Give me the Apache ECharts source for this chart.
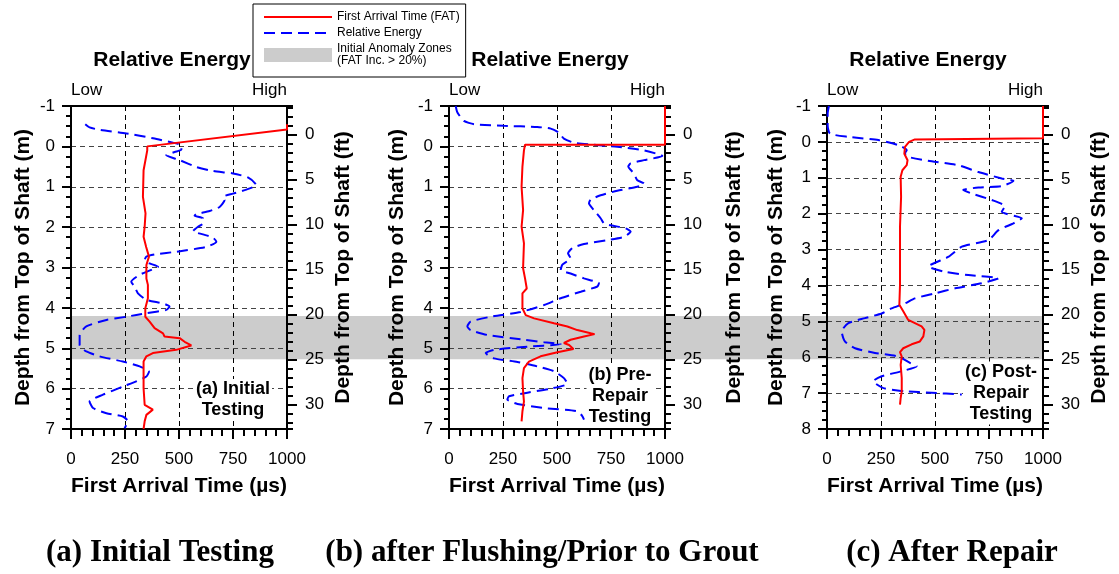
<!DOCTYPE html>
<html>
<head>
<meta charset="utf-8">
<script src="https://cdn.jsdelivr.net/npm/echarts@6/dist/echarts.min.js"></script>
<style>
  html, body { margin: 0; padding: 0; background: #fff; }
  #chart { width: 1119px; height: 574px; }
</style>
</head>
<body>
<div id="chart"></div>
<script>
// values: [first arrival time (us), depth (m)]
const fatA = [[1000,-0.55],[1000,-0.42],[353,0],[353,0.1],[336,0.59],[333,1.25],[345,1.66],[341,1.99],[336,2.24],[348,2.49],[361,2.73],[349,2.94],[349,3.27],[356,3.43],[356,3.76],[344,4.01],[344,4.22],[364,4.34],[387,4.5],[426,4.63],[433,4.71],[503,4.75],[526,4.84],[557,4.93],[487,5.04],[379,5.12],[349,5.2],[336,5.33],[336,5.66],[336,5.99],[341,6.4],[379,6.52],[349,6.65],[341,6.81],[336,7.0]]
const fatB = [[1000,-1],[1000,-0.04],[352,-0.04],[347,0.1],[340,0.5],[336,1.0],[343,1.58],[336,1.99],[347,2.4],[343,3.02],[352,3.27],[360,3.52],[340,3.64],[340,4.01],[355,4.18],[394,4.26],[486,4.38],[548,4.46],[594,4.55],[656,4.63],[674,4.65],[625,4.71],[563,4.79],[532,4.87],[556,4.92],[548,4.96],[576,5.02],[502,5.1],[424,5.2],[370,5.33],[347,5.49],[340,5.74],[343,6.07],[347,6.32],[340,6.56],[336,6.81]]
const fatC = [[1000,-1],[1000,-0.1],[407,-0.07],[380,0],[361,0.14],[358,0.33],[373,0.51],[369,0.65],[349,0.79],[341,0.97],[343,1.53],[338,2.36],[338,3.52],[338,3.99],[335,4.54],[353,4.72],[376,4.96],[407,5.05],[438,5.14],[451,5.24],[446,5.42],[430,5.56],[392,5.64],[353,5.75],[338,5.86],[346,5.98],[341,6.21],[346,6.58],[346,6.95],[341,7.14],[338,7.32]]

// relative energy (0 = low, 1 = high), [energy, depth (m)]
const energyA = [[0.066,-0.55],[0.086,-0.47],[0.132,-0.41],[0.256,-0.32],[0.38,-0.2],[0.472,-0.09],[0.511,-0.03],[0.511,0.08],[0.48,0.14],[0.441,0.22],[0.503,0.34],[0.58,0.51],[0.657,0.61],[0.75,0.67],[0.819,0.77],[0.858,0.96],[0.812,1.07],[0.75,1.17],[0.704,1.25],[0.711,1.33],[0.688,1.5],[0.642,1.6],[0.58,1.68],[0.572,1.72],[0.611,1.78],[0.611,1.91],[0.588,1.99],[0.565,2.1],[0.611,2.18],[0.657,2.26],[0.673,2.36],[0.626,2.49],[0.487,2.61],[0.395,2.67],[0.349,2.73],[0.341,2.82],[0.364,2.9],[0.403,2.98],[0.372,3.06],[0.318,3.18],[0.279,3.35],[0.294,3.47],[0.31,3.64],[0.349,3.8],[0.426,3.89],[0.456,3.97],[0.441,4.05],[0.349,4.13],[0.256,4.22],[0.164,4.3],[0.071,4.46],[0.04,4.67],[0.04,4.92],[0.071,5.08],[0.132,5.2],[0.24,5.33],[0.318,5.45],[0.361,5.58],[0.349,5.7],[0.302,5.82],[0.24,5.95],[0.148,6.15],[0.086,6.32],[0.102,6.48],[0.164,6.61],[0.24,6.69],[0.264,6.81],[0.248,6.98]]
const energyB = [[0.031,-1],[0.039,-0.84],[0.069,-0.63],[0.116,-0.55],[0.255,-0.51],[0.409,-0.48],[0.471,-0.44],[0.509,-0.34],[0.532,-0.19],[0.579,-0.09],[0.671,-0.04],[0.779,0.01],[0.903,0.1],[0.988,0.24],[0.903,0.34],[0.841,0.42],[0.83,0.5],[0.856,0.67],[0.872,0.84],[0.903,0.92],[0.872,1.0],[0.779,1.1],[0.702,1.21],[0.656,1.32],[0.648,1.41],[0.671,1.58],[0.702,1.78],[0.718,1.91],[0.764,1.97],[0.818,2.03],[0.841,2.11],[0.81,2.24],[0.733,2.32],[0.625,2.42],[0.571,2.52],[0.551,2.65],[0.563,2.77],[0.525,2.93],[0.517,3.06],[0.563,3.15],[0.625,3.27],[0.694,3.39],[0.687,3.47],[0.61,3.6],[0.517,3.76],[0.44,3.93],[0.332,4.1],[0.193,4.22],[0.1,4.34],[0.085,4.46],[0.1,4.55],[0.177,4.67],[0.347,4.79],[0.44,4.85],[0.517,4.9],[0.363,4.96],[0.208,5.04],[0.17,5.12],[0.208,5.25],[0.317,5.34],[0.409,5.45],[0.486,5.57],[0.532,5.74],[0.548,5.88],[0.471,6.0],[0.363,6.1],[0.278,6.19],[0.27,6.27],[0.317,6.38],[0.44,6.48],[0.594,6.56],[0.617,6.68],[0.625,6.77]]
const energyC = [[0.009,-1],[0.003,-0.79],[0.003,-0.46],[0.014,-0.23],[0.099,-0.14],[0.238,-0.05],[0.33,0.09],[0.369,0.23],[0.361,0.32],[0.376,0.42],[0.485,0.54],[0.608,0.65],[0.701,0.84],[0.809,1.02],[0.863,1.09],[0.809,1.23],[0.701,1.27],[0.631,1.34],[0.67,1.44],[0.763,1.62],[0.824,1.79],[0.809,1.95],[0.902,2.13],[0.863,2.27],[0.794,2.46],[0.747,2.74],[0.624,2.92],[0.563,3.2],[0.47,3.47],[0.546,3.62],[0.654,3.71],[0.793,3.8],[0.716,3.94],[0.593,4.08],[0.5,4.22],[0.407,4.36],[0.361,4.5],[0.299,4.64],[0.253,4.78],[0.176,4.91],[0.099,5.05],[0.068,5.28],[0.083,5.56],[0.13,5.75],[0.222,5.88],[0.33,5.98],[0.384,6.16],[0.415,6.25],[0.346,6.39],[0.253,6.53],[0.214,6.67],[0.261,6.86],[0.361,6.95],[0.485,6.99],[0.624,7.04]]

// anomaly zone, depth range (m) on the scale of panel (a)
const anomalyZone = [4.2, 5.27]
const energyLabels = ['Low', 'High']
const captions = ['(a) Initial Testing', '(b) after Flushing/Prior to Grout', '(c) After Repair']
const notes = ['(a) Initial\nTesting', '(b) Pre-\nRepair\nTesting', '(c) Post-\nRepair\nTesting']

const FONT = 'Liberation Sans'
const FAT_NAME = 'First Arrival Time (FAT)'
const RE_NAME = 'Relative Energy'
const ZONE_NAME = 'Initial Anomaly Zones\n(FAT Inc. > 20%)'

// layout of the three panels
const panels = [
  { left: 71, depthMax: 7, fat: fatA, energy: energyA, leftGap: 37, rightGap: 46, noteX: 233, noteY: 400, capX: 160 },
  { left: 449, depthMax: 7, fat: fatB, energy: energyB, leftGap: 41, rightGap: 59, noteX: 620, noteY: 396, capX: 542 },
  { left: 827, depthMax: 8, fat: fatC, energy: energyC, leftGap: 40, rightGap: 46, noteX: 1001, noteY: 393, capX: 952 }
]
const TOP = 106
const W = 216
const H = 323

const black = { color: '#000', width: 2 }
const axisLine = { show: true, onZero: false, lineStyle: black }
const nameStyle = { fontSize: 21, fontWeight: 'bold', color: '#000', fontFamily: FONT }
const labelStyle = { fontSize: 17, color: '#000', fontFamily: FONT, formatter: v => String(v) }

const grid = []
const xAxis = []
const yAxis = []
const series = []
const graphic = []

panels.forEach((p, i) => {
  grid.push({ left: p.left, top: TOP, width: W, height: H })

  // bottom: first arrival time
  xAxis.push({
    type: 'value', gridIndex: i, position: 'bottom', min: 0, max: 1000, interval: 250, z: 2,
    name: 'First Arrival Time (\u00b5s)', nameLocation: 'middle', nameGap: 47, nameTextStyle: nameStyle,
    axisLine,
    axisTick: { show: true, length: 10, lineStyle: black },
    minorTick: { show: true, splitNumber: 5, length: 7, lineStyle: black },
    axisLabel: Object.assign({ margin: 22 }, labelStyle),
    splitLine: { show: true, lineStyle: { color: '#000', width: 1, type: [5, 4] } }
  })
  // top: relative energy
  xAxis.push({
    type: 'value', gridIndex: i, position: 'top', min: 0, max: 1, interval: 1, z: 2,
    name: 'Relative Energy', nameLocation: 'middle', nameGap: 35,
    nameTextStyle: Object.assign({ padding: [0, 14, 0, 0] }, nameStyle),
    axisLine,
    axisTick: { show: false },
    axisLabel: {
      margin: 7, fontSize: 17, color: '#000', fontFamily: FONT,
      alignMinLabel: 'left', alignMaxLabel: 'right',
      formatter: v => energyLabels[v]
    },
    splitLine: { show: false }
  })

  // left: depth (m)
  yAxis.push({
    type: 'value', gridIndex: i, position: 'left', inverse: true, min: -1, max: p.depthMax, interval: 1, z: 2,
    name: 'Depth from Top of Shaft (m)', nameLocation: 'middle', nameGap: p.leftGap, nameRotate: 90, nameTextStyle: nameStyle,
    axisLine,
    axisTick: { show: true, length: 9, lineStyle: black },
    minorTick: { show: true, splitNumber: 4, length: 5, lineStyle: black },
    axisLabel: Object.assign({ margin: 16 }, labelStyle),
    splitLine: { show: true, lineStyle: { color: '#444', width: 1, type: [5, 4] } }
  })
  // right: depth (ft), major ticks + labels
  yAxis.push({
    type: 'value', gridIndex: i, position: 'right', inverse: true, min: -3.17, max: 32.7, splitNumber: 7, z: 2,
    name: 'Depth from Top of Shaft (ft)', nameLocation: 'middle', nameGap: p.rightGap, nameRotate: 90, nameTextStyle: nameStyle,
    axisLine,
    axisTick: { show: true, length: 10, lineStyle: black },
    axisLabel: Object.assign({ margin: 18, showMinLabel: false, showMaxLabel: false }, labelStyle),
    splitLine: { show: false }
  })
  // right: 1 ft minor ticks
  yAxis.push({
    type: 'value', gridIndex: i, position: 'right', offset: 0, inverse: true, min: -3.17, max: 32.7, splitNumber: 36, z: 2,
    axisLine: { show: false, onZero: false },
    axisTick: { show: true, length: 6, lineStyle: black },
    axisLabel: { show: false },
    splitLine: { show: false }
  })

  series.push({
    type: 'line', name: RE_NAME, xAxisIndex: 2 * i + 1, yAxisIndex: 3 * i,
    data: p.energy, symbol: 'none', smooth: 0.2, z: 3,
    lineStyle: { color: '#0000ff', width: 2, type: [11, 6] }, itemStyle: { color: '#0000ff' }
  })
  series.push({
    type: 'line', name: FAT_NAME, xAxisIndex: 2 * i, yAxisIndex: 3 * i,
    data: p.fat, symbol: 'none', clip: false, z: 4,
    lineStyle: { color: '#ff0000', width: 2 }, itemStyle: { color: '#ff0000' }
  })

  graphic.push({
    type: 'text', x: p.noteX, y: p.noteY, z: 10,
    style: {
      text: notes[i], fill: '#000', font: 'bold 18px "Liberation Sans"', align: 'center', verticalAlign: 'middle',
      lineHeight: 21, backgroundColor: '#fff', padding: [0, 2]
    }
  })
  graphic.push({
    type: 'text', x: p.capX, y: 553, z: 10,
    style: { text: captions[i], fill: '#000', font: 'bold 31px "Liberation Serif"', align: 'center', verticalAlign: 'middle' }
  })
})

// shared background grid for the anomaly band spanning all three panels
grid.push({ left: 71, top: TOP, width: 1043 - 71, height: H })
xAxis.push({ type: 'value', gridIndex: 3, min: 0, max: 1, show: false })
yAxis.push({ type: 'value', gridIndex: 3, inverse: true, min: -1, max: 7, show: false })
series.push({
  type: 'line', name: ZONE_NAME, xAxisIndex: 6, yAxisIndex: 9, data: [], symbol: 'none', silent: true, z: 1,
  itemStyle: { color: '#cccccc' }, lineStyle: { color: '#cccccc' },
  markArea: {
    silent: true, z: 1,
    itemStyle: { color: '#cccccc' },
    data: [[{ yAxis: anomalyZone[0] }, { yAxis: anomalyZone[1] }]]
  }
})

const chart = echarts.init(document.getElementById('chart'))
chart.setOption({
  animation: false,
  backgroundColor: '#fff',
  textStyle: { fontFamily: FONT },
  legend: {
    left: 253, top: 4, orient: 'vertical',
    padding: [7, 6, 10, 10], itemGap: 4, itemWidth: 68, itemHeight: 14,
    borderColor: '#000', borderWidth: 1, backgroundColor: '#fff',
    textStyle: { fontSize: 12, color: '#000', fontFamily: FONT },
    data: [
      { name: FAT_NAME, itemStyle: { opacity: 0 } },
      { name: RE_NAME, itemStyle: { opacity: 0 } },
      { name: ZONE_NAME, icon: 'rect', itemStyle: { color: '#cccccc' } }
    ]
  },
  grid, xAxis, yAxis, series, graphic
})
</script>
</body>
</html>
